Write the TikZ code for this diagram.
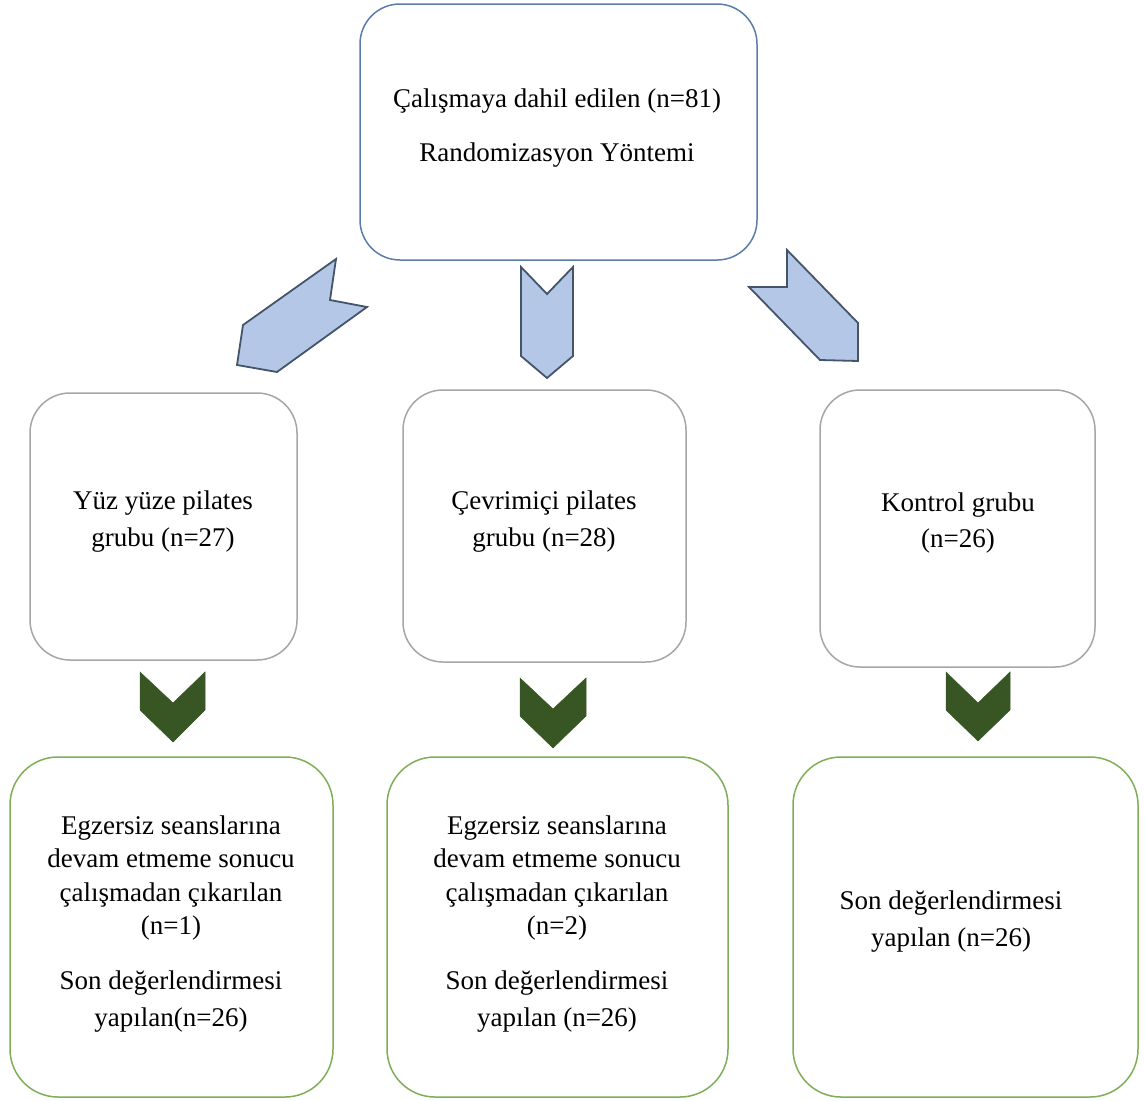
\documentclass[tikz,border=0pt]{standalone}
\usepackage{fontspec}
\setmainfont{Liberation Serif}
\definecolor{topline}{HTML}{5B7DA8}
\definecolor{midline}{HTML}{A6A6A6}
\definecolor{botline}{HTML}{7EAE55}
\definecolor{chevfill}{HTML}{B4C7E7}
\definecolor{chevline}{HTML}{44546A}
\definecolor{darkgreen}{HTML}{375623}
\tikzset{
  boxtop/.style={draw=topline, line width=1.5pt, rounded corners=40pt},
  boxmid/.style={draw=midline, line width=1.5pt, rounded corners=40pt},
  boxbot/.style={draw=botline, line width=1.5pt, rounded corners=48pt},
  chevblue/.style={fill=chevfill, draw=chevline, line width=1.8pt, line join=miter},
  chevgreen/.style={fill=darkgreen, draw=darkgreen, line width=0.5pt},
  txt/.style={anchor=base, inner sep=0pt, font=\fontsize{27}{34}\selectfont}
}
\begin{document}
\begin{tikzpicture}[x=1pt,y=-1pt]
\useasboundingbox (0,0) rectangle (1145,1100);
% boxes
\draw[boxtop] (360,4) rectangle (757,260);
\draw[boxmid] (30,393) rectangle (297,660);
\draw[boxmid] (403,390) rectangle (686,662);
\draw[boxmid] (820,390) rectangle (1095,667);
\draw[boxbot] (10,757) rectangle (333,1097);
\draw[boxbot] (387,757) rectangle (728,1097);
\draw[boxbot] (793,757) rectangle (1138,1097);
% blue chevrons
\draw[chevblue] (336,259) -- (330,300) -- (367,307) -- (277,372) -- (237,365) -- (243,325) -- cycle;
\draw[chevblue] (521,267) -- (547,294) -- (573,267) -- (573,356) -- (547,378) -- (521,356) -- cycle;
\draw[chevblue] (787,250) -- (787,287) -- (749,287) -- (820,360) -- (858,361) -- (858,323) -- cycle;
% green chevrons
\draw[chevgreen] (140,672) -- (173,703) -- (205,672) -- (205,710) -- (173,742) -- (140,710) -- cycle;
\draw[chevgreen] (520,678) -- (553,709) -- (586,678) -- (586,716) -- (553,748) -- (520,716) -- cycle;
\draw[chevgreen] (946,672) -- (978,703) -- (1010,672) -- (1010,710) -- (978,741) -- (946,710) -- cycle;
% texts
\node[txt] (t1) at (557,107) {Çalışmaya dahil edilen (n=81)};
\node[txt] (t2) at (557,161) {Randomizasyon Yöntemi};
\node[txt] (a1) at (163,509) {Yüz yüze pilates};
\node[txt] (a2) at (163,546) {grubu (n=27)};
\node[txt] (b1) at (544,509) {Çevrimiçi pilates};
\node[txt] (b2) at (544,546) {grubu (n=28)};
\node[txt] (c1) at (958,511) {Kontrol grubu};
\node[txt] (c2) at (958,547) {(n=26)};
\node[txt] (d1) at (171,834) {Egzersiz seanslarına};
\node[txt] (d2) at (171,867) {devam etmeme sonucu};
\node[txt] (d3) at (171,901) {çalışmadan çıkarılan};
\node[txt] (d4) at (171,934) {(n=1)};
\node[txt] (d5) at (171,989) {Son değerlendirmesi};
\node[txt] (d6) at (171,1026) {yapılan(n=26)};
\node[txt] (e1) at (557,834) {Egzersiz seanslarına};
\node[txt] (e2) at (557,867) {devam etmeme sonucu};
\node[txt] (e3) at (557,901) {çalışmadan çıkarılan};
\node[txt] (e4) at (557,934) {(n=2)};
\node[txt] (e5) at (557,989) {Son değerlendirmesi};
\node[txt] (e6) at (557,1026) {yapılan (n=26)};
\node[txt] (f1) at (951,909) {Son değerlendirmesi};
\node[txt] (f2) at (951,946) {yapılan (n=26)};
\end{tikzpicture}
\end{document}
